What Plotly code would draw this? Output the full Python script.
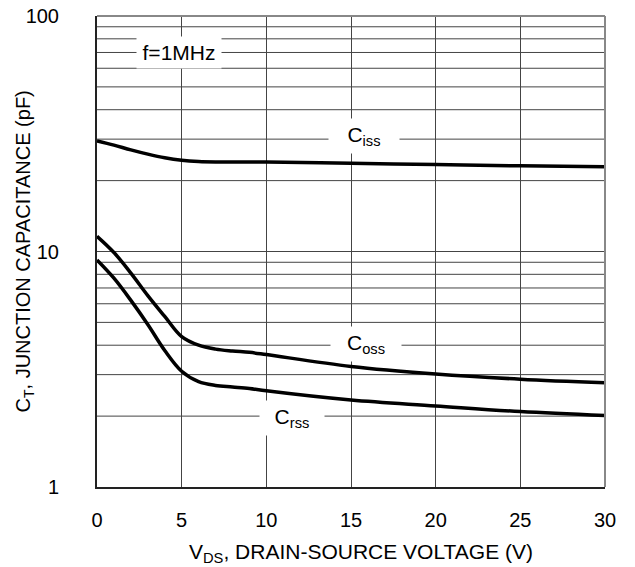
import math
import plotly.graph_objects as go

vds = [0, 1, 2, 3, 4, 5, 6, 7, 8, 9, 10, 15, 20, 25, 30]
ciss = [29.5, 28.3, 27.0, 25.9, 25.0, 24.4, 24.1, 24.0, 24.0, 24.0, 24.0, 23.7, 23.4, 23.1, 22.9]
coss = [11.6, 9.9, 8.1, 6.5, 5.3, 4.35, 4.0, 3.85, 3.78, 3.73, 3.65, 3.25, 3.02, 2.87, 2.77]
crss = [9.2, 7.7, 6.2, 4.9, 3.8, 3.1, 2.8, 2.7, 2.66, 2.62, 2.56, 2.34, 2.21, 2.09, 2.01]

x_ticks = [0, 5, 10, 15, 20, 25, 30]
y_ticks = [1, 10, 100]
y_minor = [m * d for d in (1, 10) for m in range(2, 10)]

label_text = ["f=1MHz", "C<sub>iss</sub>", "C<sub>oss</sub>", "C<sub>rss</sub>"]
label_x = [4.87, 15.74, 15.89, 11.49]
label_y = [70.3, 30.8, 4.05, 1.96]
label_w = [76, 62, 62, 56]

FONT = "Liberation Sans, Arial, sans-serif"

fig = go.Figure()
for ys in (ciss, coss, crss):
    fig.add_trace(go.Scatter(x=vds, y=ys, mode="lines",
                             line=dict(color="black", width=3.5, shape="spline", smoothing=1.0),
                             showlegend=False, hoverinfo="skip"))

shapes = []
for v in y_minor:
    shapes.append(dict(type="line", xref="paper", x0=0, x1=1, yref="y", y0=v, y1=v,
                       line=dict(color="#444", width=1), layer="below"))
shapes.append(dict(type="line", xref="paper", x0=0, x1=1, yref="paper", y0=1, y1=1,
                   line=dict(color="#888", width=2)))
shapes.append(dict(type="line", xref="paper", x0=1, x1=1, yref="paper", y0=0, y1=1,
                   line=dict(color="#888", width=2)))

for x, y, t, w in zip(label_x, label_y, label_text, label_w):
    fig.add_annotation(x=x, y=math.log10(y), yref="y", text=t, showarrow=False, bgcolor="white",
                       width=w, font=dict(family=FONT, size=21, color="black"), borderpad=4)

# axis titles
fig.add_annotation(xref="paper", yref="paper", x=-0.1437, y=0.5, xanchor="center", yanchor="middle",
                   text="C<sub>T</sub>, JUNCTION CAPACITANCE (pF)", textangle=-90, showarrow=False,
                   font=dict(family=FONT, size=20, color="black"))
fig.add_annotation(xref="paper", yref="paper", x=0.52, y=-0.140, xanchor="center", yanchor="middle",
                   text="V<sub>DS</sub>, DRAIN-SOURCE VOLTAGE (V)", showarrow=False,
                   font=dict(family=FONT, size=21, color="black"))

fig.update_layout(
    width=635, height=567,
    margin=dict(l=97, r=30, t=16, b=80),
    paper_bgcolor="white", plot_bgcolor="white",
    font=dict(family=FONT, size=20, color="black"),
    shapes=shapes,
    xaxis=dict(range=[0, 30], tickvals=x_ticks, ticktext=[str(v) for v in x_ticks],
               showgrid=True, gridcolor="#444", gridwidth=1, zeroline=False,
               showline=True, linecolor="#222", linewidth=2, ticks="", automargin=False,
               ticklabelstandoff=14, tickfont=dict(size=20)),
    yaxis=dict(type="log", range=[0, 2], tickvals=y_ticks, ticktext=[str(v) for v in y_ticks],
               showgrid=True, gridcolor="#444", gridwidth=1, zeroline=False,
               showline=True, linecolor="#222", linewidth=2, ticks="", automargin=False,
               ticklabelstandoff=32, tickfont=dict(size=20)),
)

fig.write_html("out.html")
